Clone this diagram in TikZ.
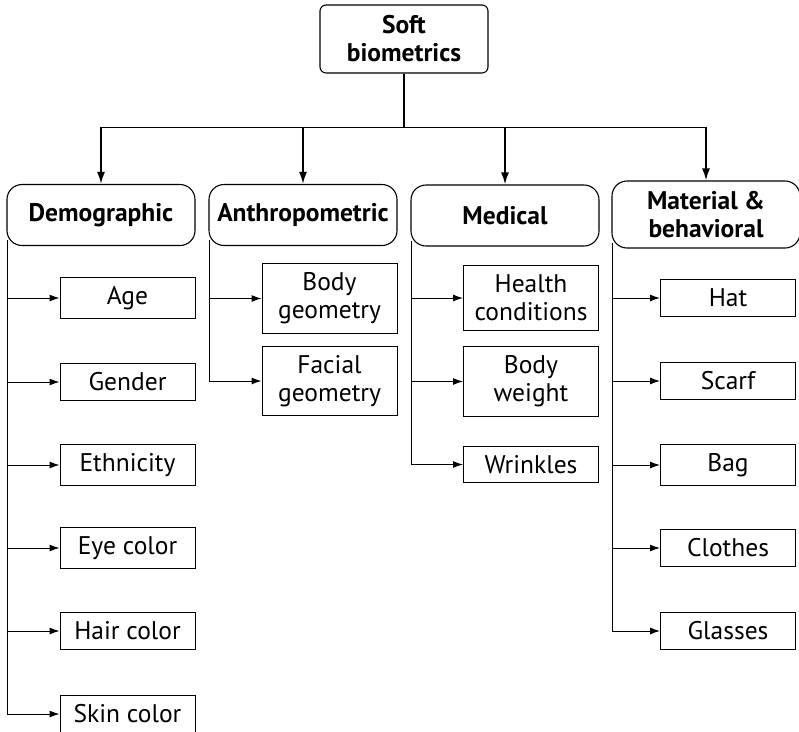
\documentclass[tikz,border=0pt]{standalone}
\usepackage{fontspec}
\setmainfont{PT Sans}
\usetikzlibrary{arrows.meta}
\begin{document}
\begin{tikzpicture}[x=1pt,y=-1pt,
  rootbox/.style={draw, rounded corners=6pt, line width=1.1pt, align=center, inner sep=0pt,
    font=\bfseries\fontsize{25.5}{28}\selectfont, minimum width=168pt, minimum height=68pt},
  catbox/.style={draw, rounded corners=15pt, line width=1.1pt, align=center, inner sep=0pt,
    font=\bfseries\fontsize{25.5}{28}\selectfont, minimum width=188pt, minimum height=61pt},
  leafbox/.style={draw, line width=1pt, align=center, inner xsep=0pt, inner ysep=9pt,
    font=\fontsize{25.5}{28}\selectfont, minimum width=135pt},
  mainarrow/.style={line width=1.8pt, -{Latex[length=12pt,width=8pt]}},
  subarrow/.style={line width=1pt, -{Latex[length=10pt,width=7pt]}}]
\useasboundingbox (0,0) rectangle (799,731);

\node[rootbox] (root) at (404,39) {Soft\\biometrics};

\node[catbox] (dem) at (101,215) {Demographic};
\node[catbox] (anth) at (303,215) {Anthropometric};
\node[catbox] (med) at (505,215.5) {Medical};
\node[catbox, minimum height=67pt] (mat) at (706,214.5) {Material \&\\behavioral};

\draw[mainarrow] (root.south) -- ++(0,54) -| (dem.north);
\draw[mainarrow] (root.south) -- ++(0,54) -| (anth.north);
\draw[mainarrow] (root.south) -- ++(0,54) -| (med.north);
\draw[mainarrow] (root.south) -- ++(0,54) -| (mat.north);

\node[leafbox] (age) at (127.5,298) {Age};
\node[leafbox] (gender) at (127.5,382) {Gender};
\node[leafbox] (eth) at (127.5,465) {Ethnicity};
\node[leafbox] (eye) at (127.5,548) {Eye color};
\node[leafbox] (hair) at (127.5,631) {Hair color};
\node[leafbox] (skin) at (127.5,714) {Skin color};

\node[leafbox] (bodyg) at (329.5,298.5) {Body\\geometry};
\node[leafbox] (facial) at (329.5,381) {Facial\\geometry};

\node[leafbox] (health) at (531,298) {Health\\conditions};
\node[leafbox] (weight) at (531,381.5) {Body\\weight};
\node[leafbox] (wrinkles) at (531,464.5) {Wrinkles};

\node[leafbox] (hat) at (728,298) {Hat};
\node[leafbox] (scarf) at (728,381) {Scarf};
\node[leafbox] (bag) at (728,465) {Bag};
\node[leafbox] (clothes) at (728,548) {Clothes};
\node[leafbox] (glasses) at (728,631) {Glasses};

\coordinate (demv) at (7,240);
\coordinate (anthv) at (209,240);
\coordinate (medv) at (411,241);
\coordinate (matv) at (612,243);

\foreach \leaf in {age,gender,eth,eye,hair,skin}
  \draw[subarrow] (demv) |- (\leaf.west);
\foreach \leaf in {bodyg,facial}
  \draw[subarrow] (anthv) |- (\leaf.west);
\foreach \leaf in {health,weight,wrinkles}
  \draw[subarrow] (medv) |- (\leaf.west);
\foreach \leaf in {hat,scarf,bag,clothes,glasses}
  \draw[subarrow] (matv) |- (\leaf.west);
\end{tikzpicture}
\end{document}
